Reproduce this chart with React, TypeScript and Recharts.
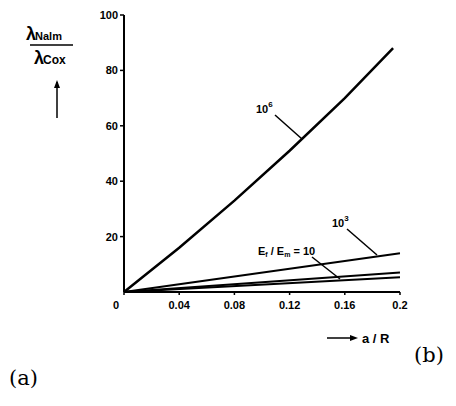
import { LineChart, Line, XAxis, YAxis } from "recharts";

const aR = [0, 0.04, 0.08, 0.12, 0.16, 0.195];
const ratio1e6 = [0, 16, 33, 51, 70, 88];
const aRLow = [0, 0.2];
const ratio1e3 = [0, 14];
const ratioMid = [0, 7];
const ratio10 = [0, 5.3];

const xTicks = [0, 0.04, 0.08, 0.12, 0.16, 0.2];
const yTicks = [20, 40, 60, 80, 100];

const data = [
  ...aR.map((x, i) => ({ x, r6: ratio1e6[i] })),
  ...aRLow.map((x, i) => ({ x, r3: ratio1e3[i], rm: ratioMid[i], r1: ratio10[i] })),
].sort((a, b) => a.x - b.x);

const sans = "'Liberation Sans', Arial, sans-serif";

const XTick = (props: any) => {
  const { x, y, payload } = props;
  const v = payload.value;
  const label = v === 0 ? "0" : v === 0.2 ? "0.2" : v.toFixed(2);
  return (
    <text
      x={v === 0 ? x - 8 : x}
      y={y + 12}
      textAnchor="middle"
      fontFamily={sans}
      fontWeight="bold"
      fontSize={11}
      fill="#000"
    >
      {label}
    </text>
  );
};

export default function App() {
  return (
    <div style={{ position: "absolute", left: 0, top: 0, width: 456, height: 406, background: "#fff" }}>
      <LineChart
        width={456}
        height={406}
        data={data}
        margin={{ top: 15, right: 56, bottom: 84, left: 84 }}
      >
        <XAxis
          dataKey="x"
          type="number"
          domain={[0, 0.2]}
          ticks={xTicks}
          height={30}
          axisLine={{ stroke: "#000", strokeWidth: 2 }}
          tickLine={{ stroke: "#000", strokeWidth: 1.5 }}
          tickSize={3}
          tick={<XTick />}
        />
        <YAxis
          type="number"
          domain={[0, 100]}
          ticks={yTicks}
          width={40}
          axisLine={{ stroke: "#000", strokeWidth: 2 }}
          tickLine={{ stroke: "#000", strokeWidth: 1.5 }}
          tickSize={4}
          tick={{ fill: "#000", fontSize: 11, fontWeight: "bold", fontFamily: sans }}
        />
        <Line dataKey="r6" stroke="#000" strokeWidth={2.5} dot={false} connectNulls isAnimationActive={false} />
        <Line dataKey="r3" stroke="#000" strokeWidth={2} dot={false} connectNulls isAnimationActive={false} />
        <Line dataKey="rm" stroke="#000" strokeWidth={2} dot={false} connectNulls isAnimationActive={false} />
        <Line dataKey="r1" stroke="#000" strokeWidth={2} dot={false} connectNulls isAnimationActive={false} />
      </LineChart>
      <svg
        width={456}
        height={406}
        style={{ position: "absolute", left: 0, top: 0, pointerEvents: "none" }}
      >
        <g fontFamily={sans} fontWeight="bold" fill="#000">
          <text x={26} y={40} fontSize={18}>
            λ<tspan fontSize={11} dx={-1}>Nalm</tspan>
          </text>
          <line x1={30} y1={45} x2={73} y2={45} stroke="#000" strokeWidth={1.5} />
          <text x={34} y={64} fontSize={18}>
            λ<tspan fontSize={12} dx={-1}>Cox</tspan>
          </text>
          <line x1={57} y1={118} x2={57} y2={82} stroke="#000" strokeWidth={1.5} />
          <path d="M54,88 L57,80 L60,88 Z" fill="#000" />

          <text x={256} y={113} fontSize={11}>
            10<tspan fontSize={8} dy={-6}>6</tspan>
          </text>
          <line x1={275} y1={115} x2={302} y2={139} stroke="#000" strokeWidth={1.5} />

          <text x={332} y={227} fontSize={11}>
            10<tspan fontSize={8} dy={-6}>3</tspan>
          </text>
          <line x1={347} y1={229} x2={377} y2={255} stroke="#000" strokeWidth={1.5} />

          <text x={258} y={255} fontSize={11}>
            E<tspan fontSize={7} dy={2}>f</tspan>
            <tspan dy={-2}> / E</tspan>
            <tspan fontSize={7} dy={2}>m</tspan>
            <tspan dy={-2}> = 10</tspan>
          </text>
          <line x1={312} y1={257} x2={340} y2={279} stroke="#000" strokeWidth={1.5} />

          <line x1={327} y1={338} x2={352} y2={338} stroke="#000" strokeWidth={1.5} />
          <path d="M350,335 L358,338 L350,341 Z" fill="#000" />
          <text x={362} y={343} fontSize={13}>a / R</text>
        </g>
        <g fontFamily="'DejaVu Serif', 'Liberation Serif', serif" fill="#000" fontSize={21}>
          <text x={9} y={385}>(a)</text>
          <text x={414} y={362}>(b)</text>
        </g>
      </svg>
    </div>
  );
}
